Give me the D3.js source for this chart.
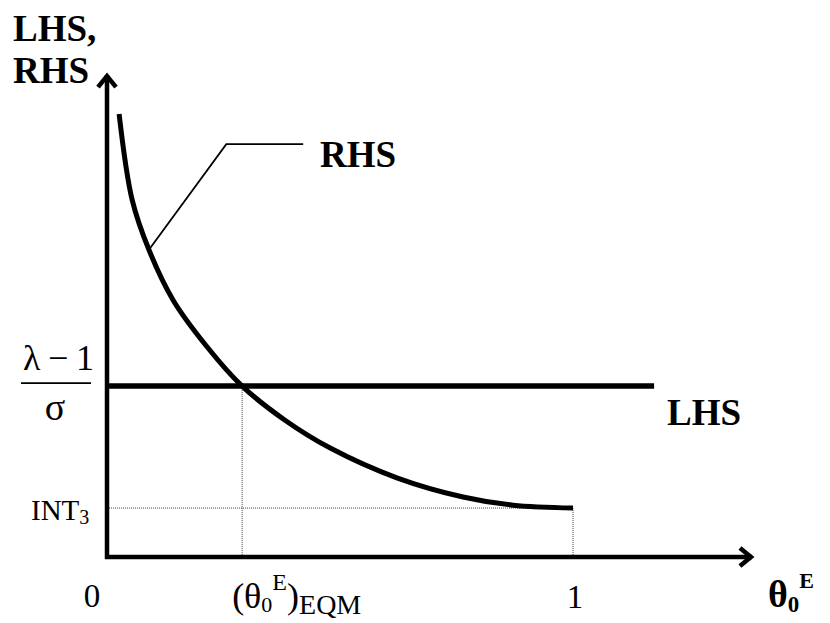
<!DOCTYPE html>
<html>
<head>
<meta charset="utf-8">
<script src="https://cdn.jsdelivr.net/npm/d3@7"></script>
<style>
  body { margin: 0; background: #fff; }
  svg text { font-family: "Liberation Serif", "Times New Roman", serif; fill: #000; }
</style>
</head>
<body>
<div id="chart"></div>
<script>
// RHS curve (x in theta units, y in chart units)
var rhsX = [0.026, 0.054, 0.090, 0.142, 0.215, 0.290, 0.382, 0.479, 0.622, 0.764, 0.871, 1.0];
var rhsY = [0.923, 0.744, 0.640, 0.535, 0.4375, 0.356, 0.285, 0.227, 0.165, 0.125, 0.108, 0.102];

// LHS is flat at (lambda-1)/sigma
var lhsX = [0, 1.174];
var lhsValue = 0.356;

// equilibrium point and INT3 level
var eqmX = 0.29;
var int3 = 0.102;

// leader line from the curve to the RHS label
var leaderX = [0.090, 0.256, 0.421];
var leaderY = [0.640, 0.860, 0.860];

var xTickVals = [0, 0.29, 1];
var axisMaxX = 1.384, axisMaxY = 1.004;

var width = 830, height = 623;

var svg = d3.select("#chart").append("svg")
    .attr("width", width)
    .attr("height", height);

var x = d3.scaleLinear().domain([0, 1]).range([107, 573]);
var y = d3.scaleLinear().domain([0, 1]).range([557, 77]);

//dotted guide lines
var guides = [
    [[0, int3], [1, int3]],
    [[1, int3], [1, 0]],
    [[eqmX, lhsValue], [eqmX, 0]]
];
svg.selectAll(".guide").data(guides).enter().append("line")
    .attr("class", "guide")
    .attr("x1", function(d){ return x(d[0][0]); })
    .attr("y1", function(d){ return y(d[0][1]); })
    .attr("x2", function(d){ return x(d[1][0]); })
    .attr("y2", function(d){ return y(d[1][1]); })
    .attr("stroke", "#444")
    .attr("stroke-width", 1)
    .attr("stroke-dasharray", "1,1");

// axes with open arrow heads
var axisG = svg.append("g").attr("fill", "none").attr("stroke", "#000").attr("stroke-width", 4.5);
axisG.append("line")
    .attr("x1", x(0)).attr("y1", y(0) + 2)
    .attr("x2", x(0)).attr("y2", y(axisMaxY));
axisG.append("line")
    .attr("x1", x(0) - 2).attr("y1", y(0))
    .attr("x2", x(axisMaxX)).attr("y2", y(0));
axisG.append("path")
    .attr("d", "M" + (x(0) - 9) + "," + (y(axisMaxY) + 12) + "L" + x(0) + "," + (y(axisMaxY) + 1) + "L" + (x(0) + 9) + "," + (y(axisMaxY) + 12));
axisG.append("path")
    .attr("d", "M" + (x(axisMaxX) - 12) + "," + (y(0) - 9) + "L" + (x(axisMaxX) - 1) + "," + y(0) + "L" + (x(axisMaxX) - 12) + "," + (y(0) + 9));

// LHS line
svg.append("line")
    .attr("x1", x(lhsX[0])).attr("y1", y(lhsValue))
    .attr("x2", x(lhsX[1])).attr("y2", y(lhsValue))
    .attr("stroke", "#000")
    .attr("stroke-width", 5.5);

// RHS curve
var rhsData = rhsX.map(function(v, i){ return [v, rhsY[i]]; });
var line = d3.line()
    .x(function(d){ return x(d[0]); })
    .y(function(d){ return y(d[1]); })
    .curve(d3.curveCatmullRom.alpha(0.5));
svg.append("path")
    .datum(rhsData)
    .attr("d", line)
    .attr("fill", "none")
    .attr("stroke", "#000")
    .attr("stroke-width", 5);

// leader
var leaderData = leaderX.map(function(v, i){ return [v, leaderY[i]]; });
svg.append("path")
    .datum(leaderData)
    .attr("d", d3.line().x(function(d){ return x(d[0]); }).y(function(d){ return y(d[1]); }))
    .attr("fill", "none")
    .attr("stroke", "#000")
    .attr("stroke-width", 1.8);

// text labels
svg.append("text").attr("x", 13).attr("y", 41)
    .attr("font-size", 37).attr("font-weight", "bold").text("LHS,");
svg.append("text").attr("x", 13).attr("y", 83)
    .attr("font-size", 37).attr("font-weight", "bold").text("RHS");
svg.append("text").attr("x", 320).attr("y", 167)
    .attr("font-size", 37).attr("font-weight", "bold").text("RHS");
svg.append("text").attr("x", 667).attr("y", 425)
    .attr("font-size", 37).attr("font-weight", "bold").text("LHS");

// (lambda - 1) / sigma
var frac = svg.append("g");
var num = frac.append("text").attr("y", 370).attr("font-size", 36);
num.append("tspan").attr("x", 23).text("λ");
num.append("tspan").attr("x", 48).text("−");
num.append("tspan").attr("x", 76).text("1");
frac.append("line")
    .attr("x1", 21).attr("x2", 91)
    .attr("y1", y(lhsValue) - 3).attr("y2", y(lhsValue) - 3)
    .attr("stroke", "#000").attr("stroke-width", 1.6);
frac.append("text").attr("x", 55).attr("y", 420)
    .attr("text-anchor", "middle").attr("font-size", 38).text("σ");

// INT3
var intT = svg.append("text").attr("x", 31).attr("y", y(int3) + 12).attr("font-size", 29);
intT.append("tspan").text("INT");
intT.append("tspan").attr("font-size", 20).attr("dy", 4).text("3");

// x labels
svg.append("text").attr("x", 92).attr("y", 607)
    .attr("text-anchor", "middle").attr("font-size", 33).text("0");
svg.append("text").attr("x", x(xTickVals[2]) + 2).attr("y", 608)
    .attr("text-anchor", "middle").attr("font-size", 33).text("1");

var eq = svg.append("text").attr("x", x(xTickVals[1]) - 10).attr("y", 608).attr("font-size", 36);
eq.append("tspan").text("(θ");
eq.append("tspan").attr("font-size", 22).attr("dy", 4).text("0");
eq.append("tspan").attr("font-size", 24).attr("dy", -22).text("E");
eq.append("tspan").attr("font-size", 36).attr("dy", 18).text(")");
eq.append("tspan").attr("font-size", 28).attr("dy", 6).text("EQM");

var th = svg.append("text").attr("x", 768).attr("y", 607)
    .attr("font-size", 38).attr("font-weight", "bold");
th.append("tspan").text("θ");
th.append("tspan").attr("font-size", 23).attr("dy", 5).text("0");
th.append("tspan").attr("font-size", 22).attr("dy", -24).text("E");
</script>
</body>
</html>
